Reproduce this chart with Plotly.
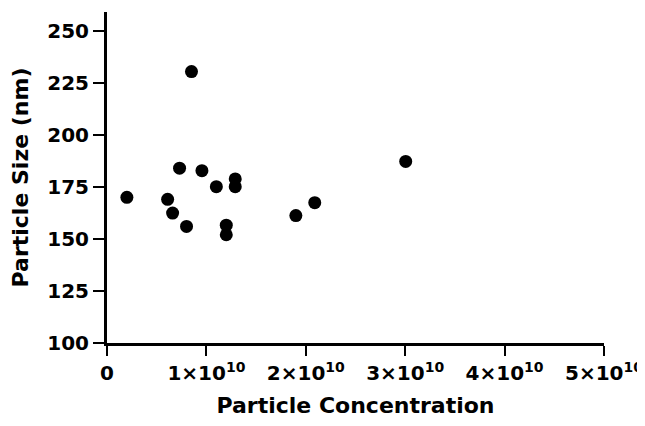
import plotly.graph_objects as go

# Data
particle_concentration = [0.20e10, 0.61e10, 0.66e10, 0.73e10, 0.80e10, 0.85e10, 0.955e10,
                          1.10e10, 1.20e10, 1.20e10, 1.29e10, 1.29e10, 1.90e10, 2.09e10, 3.005e10]
particle_size = [170, 169, 162.4, 184, 156, 230.4, 182.8,
                 175.1, 156.6, 152, 178.8, 175.1, 161.2, 167.4, 187.2]

x_tickvals = [0, 1e10, 2e10, 3e10, 4e10, 5e10]
x_ticktext = ["0", "1×10<sup>10</sup>", "2×10<sup>10</sup>", "3×10<sup>10</sup>",
              "4×10<sup>10</sup>", "5×10<sup>10</sup>"]
y_tickvals = [100, 125, 150, 175, 200, 225, 250]

FONT = "DejaVu Sans"

fig = go.Figure()
fig.add_trace(go.Scatter(
    x=particle_concentration, y=particle_size, mode="markers",
    marker=dict(color="black", size=13, line=dict(width=0)),
    showlegend=False, cliponaxis=False,
))

# page body has an 8px default margin; size the figure so the page does not scroll
fig.update_layout(
    width=637, height=410,
    margin=dict(l=99, r=41, t=4, b=75, autoexpand=False),
    paper_bgcolor="white", plot_bgcolor="white",
    font=dict(family=FONT, color="black"),
)
fig.update_xaxes(
    range=[0, 5e10], tickvals=x_tickvals,
    ticktext=["<b>%s</b>" % t for t in x_ticktext],
    showgrid=False, zeroline=False, showline=True, linecolor="black", linewidth=3,
    ticks="outside", ticklen=10, tickwidth=2, tickcolor="black",
    tickfont=dict(family=FONT, size=20, color="black"),
    title=dict(text="<b>Particle Concentration</b>", font=dict(family=FONT, size=22, color="black"), standoff=25),
    automargin=False,
)
fig.update_yaxes(
    range=[100, 259], tickvals=y_tickvals,
    ticktext=["<b>%d</b>" % v for v in y_tickvals],
    showgrid=False, zeroline=False, showline=True, linecolor="black", linewidth=3,
    ticks="outside", ticklen=11, tickwidth=2, tickcolor="black",
    tickfont=dict(family=FONT, size=20, color="black"),
    ticklabelstandoff=0,
    title=dict(text="<b>Particle Size (nm)</b>", font=dict(family=FONT, size=22, color="black"), standoff=20),
    automargin=False,
)

fig.write_html("out.html")
